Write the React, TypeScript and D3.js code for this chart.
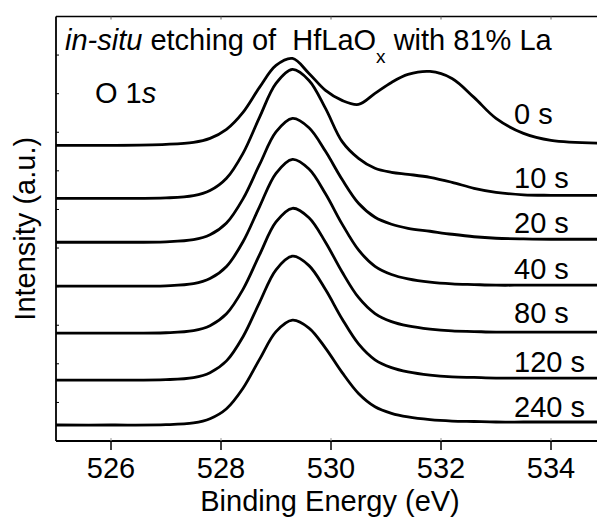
import React from "react";
import * as d3 from "d3";

// Binding energies (eV) at which the spectra were sampled
const energies = [525, 526, 527, 527.5, 527.8, 528.1, 528.4, 528.7, 529.0, 529.3, 529.6, 529.9, 530.2, 530.5, 530.8, 531.1, 531.4, 531.8, 532.2, 532.6, 533, 533.5, 534, 535];

// Offset intensities (a.u.) per etching time
const s0 = [296, 296, 297, 299, 303, 312, 329, 354, 376, 383, 368, 351, 341, 337, 348, 359, 367, 370, 363, 344, 323, 308, 301, 298];
const s10 = [243, 243, 243.4, 245.6, 250.7, 263, 288, 324, 358, 372, 361, 333, 300, 283, 273, 269, 267, 264, 259, 253, 249, 246.5, 246, 246];
const s20 = [199, 199, 199.4, 201.5, 206.4, 218.2, 242.4, 276.6, 309.4, 323, 313.7, 290, 262, 238, 224, 217, 213, 210, 207, 204.5, 203, 202.3, 202, 202];
const s40 = [155, 155, 155.4, 157.5, 162.6, 174.7, 199.5, 234.5, 268, 282, 272.3, 247.5, 217.4, 191.3, 174.9, 166.7, 162.3, 159, 157.3, 156.6, 156, 156, 156, 156];
const s80 = [108, 108, 108.4, 110.5, 115.5, 127.4, 151.8, 186.3, 219.3, 233, 223.5, 199, 169.4, 143.7, 127.6, 119.5, 115.2, 112, 110.2, 109.6, 109, 109, 109, 109];
const s120 = [61, 61, 61.4, 63.5, 68.4, 80.2, 104.4, 138.6, 171.4, 185, 175.6, 151.6, 122.4, 97.2, 81.3, 73.4, 69.1, 65.9, 64.2, 63.6, 63, 63, 63, 63];
const s240 = [16, 16, 16.3, 18.1, 22.3, 32.3, 52.8, 81.7, 109.5, 121, 113.1, 93, 68.7, 47.6, 34.3, 27.7, 24.1, 21.4, 20, 19.5, 19, 19, 19, 19];

const seriesValues = [s0, s10, s20, s40, s80, s120, s240];
const seriesLabels = ["0 s", "10 s", "20 s", "40 s", "80 s", "120 s", "240 s"];
// label baseline levels (a.u.)
const labelLevels = [317, 253, 208, 162, 118, 69, 24];

const xTicks = [526, 528, 530, 532, 534];
const xTickLabels = ["526", "528", "530", "532", "534"];
const yTicks = [0, 38.6, 77.3, 115.9, 154.5, 193.2, 231.8, 270.5, 309.1, 347.7, 386.4, 425];

const W = 597;
const H = 526;
const FONT = "'Liberation Sans', Arial, Helvetica, sans-serif";

export default function App() {
  const left = 56, top = 16.5, bottom = 441;
  const x = d3.scaleLinear().domain([525, 535]).range([left, left + 550]);
  const y = d3.scaleLinear().domain([0, 425]).range([bottom, top]);
  const line = d3
    .line<[number, number]>()
    .x((d) => x(d[0]))
    .y((d) => y(d[1]))
    .curve(d3.curveCatmullRom.alpha(0.5));

  return (
    <svg
      width={W}
      height={H}
      style={{ position: "absolute", left: 0, top: 0, background: "#fff" }}
      fontFamily={FONT}
    >
      <rect x={0} y={0} width={W} height={H} fill="#fff" />
      <defs>
        <clipPath id="plotClip">
          <rect x={left} y={top} width={W - left} height={bottom - top} />
        </clipPath>
      </defs>
      {/* spectra */}
      <g clipPath="url(#plotClip)">
        {seriesValues.map((vals, i) => (
          <path
            key={i}
            d={line(energies.map((e, j) => [e, vals[j]]) as [number, number][]) || ""}
            fill="none"
            stroke="#000"
            strokeWidth={2.8}
            strokeLinejoin="round"
          />
        ))}
      </g>
      {/* frame */}
      <line x1={left} x2={W} y1={top} y2={top} stroke="#000" strokeWidth={1.5} />
      <line x1={left} x2={W} y1={bottom} y2={bottom} stroke="#000" strokeWidth={1.8} />
      <line x1={left} x2={left} y1={top} y2={bottom} stroke="#000" strokeWidth={1.8} />
      {/* left inner ticks */}
      {yTicks.map((t, i) => (
        <line key={i} x1={left} x2={left + 3} y1={y(t)} y2={y(t)} stroke="#000" strokeWidth={1} />
      ))}
      {/* x ticks */}
      {xTicks.map((t, i) => (
        <g key={i}>
          <line x1={x(t)} x2={x(t)} y1={bottom} y2={bottom + 9} stroke="#000" strokeWidth={1.5} />
          <line x1={x(t)} x2={x(t)} y1={top} y2={top + 3} stroke="#666" strokeWidth={1} />
          <line x1={x(t)} x2={x(t)} y1={bottom - 3} y2={bottom} stroke="#999" strokeWidth={1} />
          <text x={x(t)} y={478} textAnchor="middle" fontSize={29} fill="#000">
            {xTickLabels[i]}
          </text>
        </g>
      ))}
      {/* series labels */}
      {seriesLabels.map((lab, i) => (
        <text key={lab} x={514} y={y(labelLevels[i])} fontSize={29} fill="#000">
          {lab}
        </text>
      ))}
      {/* title */}
      <text x={65} y={50} fontSize={29} fill="#000" style={{ whiteSpace: "pre" }}>
        <tspan fontStyle="italic">in-situ</tspan>
        <tspan>{" etching of  HfLaO"}</tspan>
        <tspan fontSize={19} dy={13}>x</tspan>
        <tspan dy={-13}>{" with 81% La"}</tspan>
      </text>
      <text x={95} y={103} fontSize={29} fill="#000" style={{ whiteSpace: "pre" }}>
        <tspan>O 1</tspan>
        <tspan fontStyle="italic">s</tspan>
      </text>
      {/* axis titles */}
      <text x={330} y={511} textAnchor="middle" fontSize={29} fill="#000">
        Binding Energy (eV)
      </text>
      <text
        transform={`translate(35, ${(top + bottom) / 2}) rotate(-90)`}
        textAnchor="middle"
        fontSize={29}
        fill="#000"
      >
        Intensity (a.u.)
      </text>
    </svg>
  );
}
